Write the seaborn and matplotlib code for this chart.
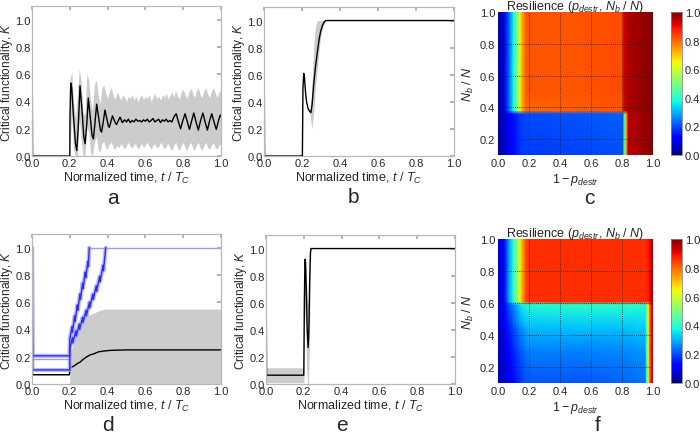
import numpy as np
import pandas as pd
import matplotlib
matplotlib.use("Agg")
import matplotlib.pyplot as plt
import seaborn as sns

sns.set_theme(style="white")
plt.rcParams.update({
    'font.family': ['Liberation Sans', 'DejaVu Sans'],
    'font.size': 8,
    'axes.labelsize': 9,
    'xtick.labelsize': 8,
    'ytick.labelsize': 8,
    'mathtext.fontset': 'custom',
    'mathtext.rm': 'Liberation Sans',
    'mathtext.it': 'Liberation Sans:italic',
    'mathtext.bf': 'Liberation Sans:bold',
})

# ---------------- panel a ----------------
t_a = [0.0, 0.003, 0.200, 0.201, 0.205, 0.210, 0.220, 0.230, 0.237, 0.245, 0.254,
       0.265, 0.274, 0.281, 0.290, 0.298, 0.310, 0.318, 0.325, 0.333, 0.342, 0.355,
       0.362, 0.368, 0.377, 0.386, 0.398, 0.404, 0.409, 0.417, 0.426, 0.437, 0.447,
       0.457, 0.466, 0.478,
       0.49, 0.50, 0.51, 0.52, 0.53, 0.54, 0.55, 0.56, 0.57, 0.58, 0.59, 0.60, 0.61,
       0.62, 0.63, 0.64, 0.65, 0.66, 0.67, 0.68, 0.69, 0.70, 0.71, 0.72, 0.73,
       0.740, 0.752, 0.763, 0.775, 0.786, 0.798, 0.810, 0.822, 0.833, 0.845, 0.856,
       0.868, 0.880, 0.892, 0.904, 0.916, 0.928, 0.940, 0.951, 0.963, 0.975, 0.987,
       0.996, 1.0]
k_a = [1.0, 0.0, 0.0, 0.30, 0.535, 0.50, 0.28, 0.09, 0.04, 0.22, 0.515,
       0.33, 0.14, 0.09, 0.24, 0.425, 0.26, 0.15, 0.125, 0.24, 0.38, 0.26,
       0.19, 0.175, 0.25, 0.337, 0.26, 0.22, 0.21, 0.25, 0.295, 0.255, 0.23,
       0.26, 0.285, 0.245,
       0.265, 0.25, 0.27, 0.245, 0.26, 0.25, 0.27, 0.255, 0.26, 0.25, 0.265, 0.255, 0.27,
       0.25, 0.26, 0.275, 0.25, 0.26, 0.27, 0.245, 0.265, 0.255, 0.27, 0.25, 0.26,
       0.25, 0.29, 0.31, 0.25, 0.20, 0.26, 0.31, 0.25, 0.195, 0.26, 0.315,
       0.25, 0.19, 0.26, 0.315, 0.25, 0.19, 0.26, 0.31, 0.25, 0.195, 0.26,
       0.30, 0.29]
band_t_a = np.linspace(0.20, 1.00, 81)
upper_a = [0.55, 0.62, 0.40, 0.28, 0.45, 0.64, 0.55, 0.32, 0.30, 0.60,
           0.56, 0.40, 0.34, 0.52, 0.56, 0.45, 0.38, 0.50, 0.52, 0.46,
           0.42, 0.48, 0.50, 0.44, 0.42, 0.47, 0.44, 0.41, 0.45, 0.43,
           0.40, 0.44, 0.42, 0.45, 0.41, 0.44, 0.40, 0.43, 0.45, 0.41,
           0.44, 0.42, 0.45, 0.40, 0.43, 0.46, 0.42, 0.44, 0.41, 0.45,
           0.43, 0.46, 0.42, 0.44, 0.47, 0.43, 0.48, 0.44, 0.42, 0.47,
           0.49, 0.45, 0.42, 0.47, 0.50, 0.46, 0.43, 0.48, 0.50, 0.45,
           0.43, 0.48, 0.50, 0.45, 0.43, 0.48, 0.50, 0.46, 0.43, 0.47,
           0.49]
lower_a = [0.00, 0.30, 0.05, 0.00, 0.00, 0.28, 0.12, 0.00, 0.00, 0.20,
           0.18, 0.02, 0.00, 0.10, 0.14, 0.05, 0.03, 0.09, 0.11, 0.06,
           0.05, 0.09, 0.10, 0.06, 0.05, 0.08, 0.06, 0.09, 0.07, 0.05,
           0.08, 0.10, 0.07, 0.06, 0.09, 0.08, 0.05, 0.07, 0.09, 0.06,
           0.08, 0.10, 0.07, 0.05, 0.08, 0.09, 0.06, 0.07, 0.10, 0.08,
           0.05, 0.07, 0.09, 0.06, 0.04, 0.08, 0.10, 0.06, 0.04, 0.08,
           0.10, 0.06, 0.04, 0.08, 0.10, 0.06, 0.04, 0.08, 0.10, 0.06,
           0.04, 0.08, 0.10, 0.06, 0.05, 0.08, 0.10, 0.06, 0.05, 0.08,
           0.09]

# ---------------- panel b ----------------
t_b = [0.0, 0.003, 0.200, 0.202, 0.205, 0.209, 0.213, 0.218, 0.224, 0.232, 0.240,
       0.247, 0.253, 0.263, 0.272, 0.281, 0.290, 0.298, 0.308, 0.317, 0.325, 1.0]
k_b = [1.0, 0.0, 0.0, 0.0, 0.50, 0.61, 0.58, 0.48, 0.40, 0.35, 0.33,
       0.32, 0.38, 0.55, 0.67, 0.77, 0.86, 0.92, 0.965, 0.99, 1.0, 1.0]
band_t_b = [0.240, 0.247, 0.253, 0.263, 0.272, 0.281, 0.290, 0.298, 0.308, 0.317, 0.325]
upper_b = [0.34, 0.38, 0.55, 0.85, 0.97, 1.0, 1.0, 1.0, 1.0, 1.0, 1.0]
lower_b = [0.32, 0.25, 0.20, 0.35, 0.52, 0.65, 0.78, 0.88, 0.94, 0.98, 1.0]

# ---------------- panel d ----------------
t_d = [0.0, 0.003, 0.198, 0.200, 0.210, 0.220, 0.230, 0.240, 0.254, 0.270, 0.290,
       0.310, 0.325, 0.350, 0.370, 0.395, 0.420, 0.450, 0.500, 1.000]
k_d = [1.0, 0.068, 0.068, 0.115, 0.125, 0.13, 0.14, 0.15, 0.16, 0.18, 0.20,
       0.215, 0.22, 0.235, 0.24, 0.244, 0.247, 0.248, 0.25, 0.25]
band_t_d = [0.0, 0.199, 0.200, 0.215, 0.230, 0.246, 0.265, 0.281, 0.316, 0.350, 0.386, 1.000]
upper_d = [0.07, 0.07, 0.21, 0.28, 0.34, 0.40, 0.46, 0.49, 0.513, 0.535, 0.55, 0.55]
lower_d = [0.065, 0.065, 0.0, 0.0, 0.0, 0.0, 0.0, 0.0, 0.0, 0.0, 0.0, 0.0]
t_d_blue1 = [0.0, 0.003, 0.200, 0.200, 0.212, 0.214, 0.226, 0.228, 0.240, 0.242,
             0.254, 0.256, 0.268, 0.270, 0.282, 0.284, 0.296, 0.298, 0.303]
k_d_blue1 = [1.0, 0.207, 0.207, 0.33, 0.42, 0.38, 0.50, 0.46, 0.58, 0.54,
             0.66, 0.62, 0.74, 0.70, 0.82, 0.78, 0.90, 0.86, 1.0]
t_d_blue2 = [0.0, 0.003, 0.200, 0.200, 0.214, 0.216, 0.232, 0.234, 0.250, 0.252,
             0.268, 0.270, 0.286, 0.288, 0.304, 0.306, 0.322, 0.324, 0.340, 0.342,
             0.358, 0.360, 0.376, 0.378, 0.390]
k_d_blue2 = [1.0, 0.103, 0.103, 0.26, 0.34, 0.30, 0.39, 0.35, 0.44, 0.40,
             0.49, 0.45, 0.54, 0.50, 0.60, 0.56, 0.66, 0.62, 0.72, 0.68,
             0.79, 0.75, 0.87, 0.83, 1.0]
t_d_blue3 = [0.0, 0.200]
k_d_blue3 = [0.183, 0.183]
t_d_top = [0.303, 1.0]
k_d_top = [1.0, 1.0]

# ---------------- panel e ----------------
t_e = [0.0, 0.003, 0.200, 0.203, 0.206, 0.209, 0.213, 0.218, 0.223, 0.227, 0.231,
       0.235, 0.238, 1.0]
k_e = [1.0, 0.065, 0.065, 0.60, 0.92, 0.90, 0.70, 0.40, 0.27, 0.40, 0.75,
       0.97, 1.0, 1.0]
band_t_e = [0.0, 0.200, 0.201, 0.205, 0.210, 0.215, 0.220, 0.225, 0.230, 0.235, 0.240]
upper_e = [0.12, 0.12, 0.40, 0.96, 0.94, 0.75, 0.60, 0.60, 0.95, 1.0, 1.0]
lower_e = [0.01, 0.01, 0.01, 0.55, 0.45, 0.10, 0.0, 0.0, 0.30, 0.90, 1.0]

# ---------------- panel c (resilience map) ----------------
x_c = [0.0, 0.04, 0.07, 0.10, 0.12, 0.14, 0.16, 0.18, 0.20, 0.50, 0.80,
       0.81, 0.82, 0.83, 0.84, 0.90, 1.00]
y_c = [0.10, 0.36, 0.38, 0.50, 1.00]
c_bottom = [0.03, 0.07, 0.11, 0.14, 0.16, 0.18, 0.19, 0.20, 0.20, 0.21, 0.22,
            0.30, 0.50, 0.75, 0.95, 0.96, 1.00]
c_low_top = [0.03, 0.08, 0.22, 0.37, 0.48, 0.62, 0.74, 0.80, 0.80, 0.81, 0.82,
             0.90, 0.94, 0.95, 0.96, 0.97, 1.00]
c_top = [0.03, 0.08, 0.22, 0.37, 0.48, 0.62, 0.74, 0.81, 0.82, 0.82, 0.83,
         0.90, 0.94, 0.95, 0.96, 0.97, 1.00]
c_bottom_lo = [0.03, 0.06, 0.10, 0.13, 0.15, 0.17, 0.18, 0.18, 0.18, 0.19, 0.20,
               0.30, 0.50, 0.75, 0.95, 0.96, 1.00]

# ---------------- panel f (resilience map) ----------------
x_f = [0.0, 0.04, 0.07, 0.10, 0.12, 0.14, 0.16, 0.18, 0.20, 0.50, 0.80,
       0.95, 0.96, 0.97, 0.98, 0.99, 1.00]
y_f = [0.10, 0.30, 0.45, 0.59, 0.61, 1.00]
f_r10 = [0.05, 0.07, 0.10, 0.13, 0.15, 0.17, 0.19, 0.20, 0.21, 0.21, 0.22, 0.24, 0.40, 0.60, 0.80, 0.90, 0.95]
f_r30 = [0.05, 0.08, 0.12, 0.16, 0.18, 0.20, 0.22, 0.24, 0.25, 0.25, 0.26, 0.27, 0.42, 0.60, 0.80, 0.90, 0.95]
f_r45 = [0.06, 0.10, 0.15, 0.20, 0.23, 0.26, 0.28, 0.30, 0.31, 0.32, 0.32, 0.33, 0.45, 0.62, 0.80, 0.90, 0.95]
f_r59 = [0.08, 0.13, 0.20, 0.26, 0.30, 0.34, 0.37, 0.38, 0.39, 0.40, 0.40, 0.40, 0.50, 0.65, 0.80, 0.90, 0.95]
f_top = [0.06, 0.12, 0.28, 0.40, 0.50, 0.62, 0.74, 0.83, 0.86, 0.86, 0.86, 0.86, 0.87, 0.88, 0.90, 0.94, 0.97]

W, H = 700, 435
fig = plt.figure(figsize=(7, 4.35), dpi=100)


def box(left, top, right, bottom):
    return [left / W, 1 - bottom / H, (right - left) / W, (bottom - top) / H]


def draw_line(ax, t, k, color, lw, alpha=1.0):
    df = pd.DataFrame({'t': t, 'k': k})
    sns.lineplot(data=df, x='t', y='k', ax=ax, color=color, lw=lw,
                 estimator=None, sort=False, alpha=alpha)


TICKS = [0, 0.2, 0.4, 0.6, 0.8, 1.0]
TICK_LABELS = ['0.0', '0.2', '0.4', '0.6', '0.8', '1.0']


def style_line_axes(ax):
    ax.set_xlim(0, 1)
    ax.set_ylim(0, 1.1)
    ax.set_xticks(TICKS)
    ax.set_yticks(TICKS)
    ax.set_xticklabels(TICK_LABELS)
    ax.set_yticklabels(TICK_LABELS)
    ax.tick_params(direction='in', top=True, right=True, length=3,
                   color='#aaaaaa', pad=1.5)
    ax.tick_params(axis='y', pad=1)
    for s in ax.spines.values():
        s.set_color('#b8b8b8')
        s.set_linewidth(0.9)
    ax.set_xlabel(r'Normalized time, $t\ /\ T_C$', labelpad=1)
    ax.set_ylabel(r'Critical functionality, $K$', labelpad=0, fontsize=8.6)


GRAY = '#cccccc'

ax_a = fig.add_axes(box(32, 7, 221, 157))
ax_a.fill_between(band_t_a, lower_a, upper_a, color=GRAY, lw=0)
draw_line(ax_a, t_a, k_a, 'black', 1.0)
style_line_axes(ax_a)

ax_b = fig.add_axes(box(264, 8, 454, 157))
ax_b.fill_between(band_t_b, lower_b, upper_b, color=GRAY, lw=0)
draw_line(ax_b, t_b, k_b, 'black', 1.0)
style_line_axes(ax_b)

ax_d = fig.add_axes(box(32, 235, 221, 385))
ax_d.fill_between(band_t_d, lower_d, upper_d, color=GRAY, lw=0)
draw_line(ax_d, t_d, k_d, 'black', 1.0)
for tt, kk in [(t_d_blue1, k_d_blue1), (t_d_blue2, k_d_blue2)]:
    draw_line(ax_d, tt, kk, '#a8a8ff', 3.0, alpha=0.8)
draw_line(ax_d, t_d_blue3, k_d_blue3, '#9c9cff', 1.0)
draw_line(ax_d, t_d_top, k_d_top, '#9c9cff', 1.0)
draw_line(ax_d, t_d_blue1, k_d_blue1, '#2f2fe8', 1.0)
draw_line(ax_d, t_d_blue2, k_d_blue2, '#2f2fe8', 1.0)
style_line_axes(ax_d)

ax_e = fig.add_axes(box(266, 236, 455, 385))
ax_e.fill_between(band_t_e, lower_e, upper_e, color=GRAY, lw=0)
draw_line(ax_e, t_e, k_e, 'black', 1.0)
style_line_axes(ax_e)


def draw_map(ax, cax, xs, ys, rows):
    z = np.array(rows)
    mesh = ax.pcolormesh(xs, ys, z, cmap='jet', vmin=0, vmax=1, shading='gouraud')
    ax.set_xlim(0, 1)
    ax.set_ylim(0.1, 1.0)
    ax.set_xticks(TICKS)
    ax.set_xticklabels(TICK_LABELS)
    ax.set_yticks(TICKS[1:])
    ax.set_yticklabels(TICK_LABELS[1:])
    ax.tick_params(length=0, pad=2)
    for s in ax.spines.values():
        s.set_visible(False)
    for v in [0.2, 0.4, 0.6, 0.8]:
        ax.axvline(v, color='#222222', ls=(0, (1, 1.5)), lw=0.6)
        ax.axhline(v, color='#222222', ls=(0, (1, 1.5)), lw=0.6)
    ax.set_xlabel(r'$1 - p_{destr}$', labelpad=2)
    ax.set_ylabel(r'$N_b\ /\ N$', labelpad=3)
    ax.set_title(r'Resilience ($p_{destr}$, $N_b\ /\ N$)', fontsize=9, pad=2)
    cb = fig.colorbar(mesh, cax=cax, ticks=TICKS)
    cb.ax.set_yticklabels(TICK_LABELS)
    cb.ax.tick_params(length=0, pad=2, labelsize=8)
    cb.outline.set_edgecolor('#888888')
    cb.outline.set_linewidth(0.6)


ax_c = fig.add_axes(box(498, 13, 653, 156))
cax_c = fig.add_axes(box(671, 13, 682, 156))
draw_map(ax_c, cax_c, x_c, y_c, [c_bottom_lo, c_bottom, c_low_top, c_top, c_top])

ax_f = fig.add_axes(box(498, 240, 653, 384))
cax_f = fig.add_axes(box(671, 240, 682, 384))
draw_map(ax_f, cax_f, x_f, y_f, [f_r10, f_r30, f_r45, f_r59, f_top, f_top])

for letter, px, py in [('a', 113, 199), ('b', 353, 198), ('c', 589, 199),
                       ('d', 108, 426), ('e', 342, 426), ('f', 598, 426)]:
    fig.text(px / W, 1 - py / H, letter, fontsize=15, ha='center', va='center')

fig.savefig('out.png', dpi=100)
